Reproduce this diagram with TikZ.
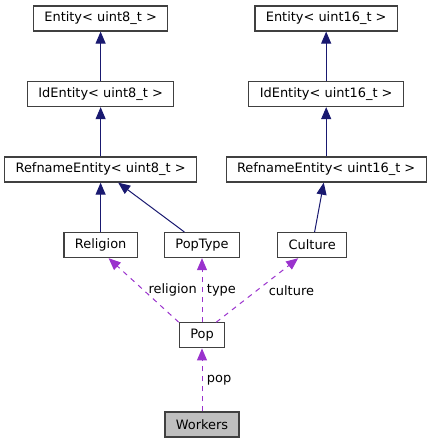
\documentclass[tikz,border=0pt]{standalone}
\usepackage{fontspec}
\setmainfont{DejaVu Sans}
\usetikzlibrary{arrows.meta, positioning}
\usepackage{xcolor}
\definecolor{edgeInherit}{HTML}{191970}
\definecolor{edgeUsage}{HTML}{9A32CD}
\definecolor{boxBorder}{HTML}{404040}
\definecolor{boxFocus}{HTML}{BFBFBF}
\tikzset{
    classbox/.style={rectangle, draw=boxBorder, fill=white, line width=0.9pt, inner xsep=8.2pt, inner ysep=0pt, minimum height=18.75pt, font=\fontsize{9.7}{11}\selectfont},
    focusbox/.style={classbox, fill=boxFocus},
    inherit/.style={-{Triangle[length=9pt, width=7.5pt]}, draw=edgeInherit, line width=0.75pt},
    usage/.style={-{Triangle[length=9pt, width=7.5pt]}, draw=edgeUsage, line width=0.75pt, dash pattern=on 3.75pt off 3.75pt},
    edgelabel/.style={font=\fontsize{9.7}{11}\selectfont, text=black},
}
\begin{document}
\begin{tikzpicture}[x=0.75pt, y=-0.75pt, node distance=37pt]
    \useasboundingbox (0,0) rectangle (432,444);
    \node[focusbox] (workers) at (202,424.5) {Workers};
    \node[classbox, above=47.25pt of workers] (pop) {Pop};
    \node[classbox, above=48pt of pop] (poptype) {PopType};
    \node[classbox, left=19.5pt of poptype] (religion) {Religion};
    \node[classbox, right=27.75pt of poptype] (culture) {Culture};
    \node[classbox, above=of religion] (refname8) {RefnameEntity< uint8\_t >};
    \node[classbox, above=of refname8] (identity8) {IdEntity< uint8\_t >};
    \node[classbox, above=of identity8] (entity8) {Entity< uint8\_t >};
    \node[classbox, above=of culture, xshift=10.5pt] (refname16) {RefnameEntity< uint16\_t >};
    \node[classbox, above=of refname16] (identity16) {IdEntity< uint16\_t >};
    \node[classbox, above=of identity16] (entity16) {Entity< uint16\_t >};

    \draw[inherit] (identity8) -- (entity8);
    \draw[inherit] (refname8) -- (identity8);
    \draw[inherit] (identity16) -- (entity16);
    \draw[inherit] (refname16) -- (identity16);
    \draw[inherit] (religion) -- (refname8);
    \draw[inherit] (poptype) -- (refname8);
    \draw[inherit] (culture) -- (refname16);
    \draw[usage] (pop.north west) -- node[edgelabel, right] {religion} ([xshift=6pt]religion.south);
    \draw[usage] (pop) -- node[edgelabel, right] {type} (poptype);
    \draw[usage] ([xshift=-6.75pt]pop.north east) -- node[edgelabel, right=5pt] {culture} ([xshift=-10.5pt]culture.south);
    \draw[usage] (workers) -- node[edgelabel, right] {pop} (pop);
\end{tikzpicture}
\end{document}
